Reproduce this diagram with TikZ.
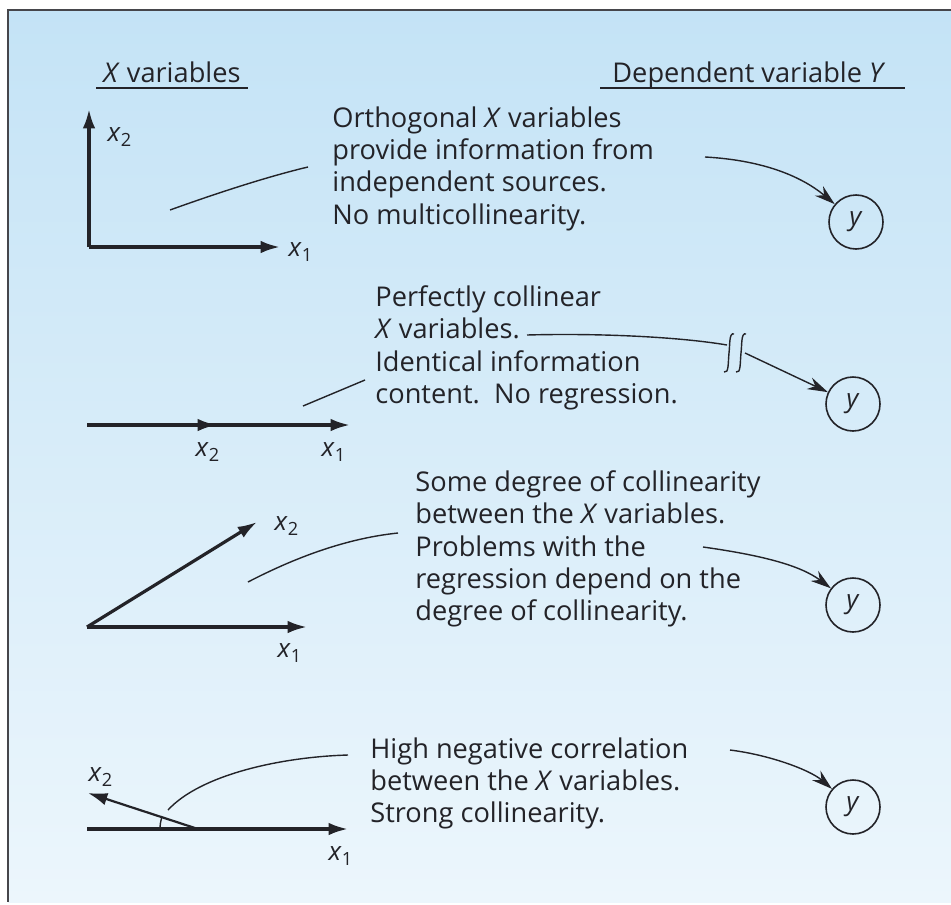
\documentclass[tikz,border=0pt]{standalone}
\usepackage{fontspec}
\setmainfont{Open Sans}
\usetikzlibrary{arrows.meta}
\usepackage{xcolor}
\definecolor{paneltop}{RGB}{196,227,246}
\definecolor{panelbot}{RGB}{236,246,252}
\definecolor{inkdark}{RGB}{35,35,40}
\definecolor{framegray}{RGB}{70,70,75}
\newcommand{\xsub}[1]{\textit{x}\textsubscript{#1}}

\begin{document}
\begin{tikzpicture}[x=0.5pt,y=-0.5pt,
  every node/.style={text=inkdark,font=\fontsize{13}{16}\selectfont},
  note/.style={anchor=north west,align=left,inner sep=0pt,font=\fontsize{13.6}{16.2}\selectfont},
  head/.style={anchor=base west,inner sep=0pt,font=\fontsize{13.6}{16.2}\selectfont},
  axis/.style={draw=inkdark,line width=1.6pt,-{Latex[length=3.4mm,width=2.2mm]}},
  leader/.style={draw=inkdark,line width=0.7pt},
  link/.style={draw=inkdark,line width=0.7pt,-{Stealth[length=3.6mm,width=2.2mm]}},
  ynode/.style={circle,draw=inkdark,line width=0.8pt,minimum size=27pt,inner sep=0pt}]
\useasboundingbox (0,0) rectangle (951,904);
\fill[white] (0,0) rectangle (951,904);
\shade[top color=paneltop,bottom color=panelbot] (8,10) rectangle (951,902);
\draw[framegray,line width=1.2pt] (951,10) -- (8,10) -- (8,902);

% headings
\node[head] (hx) at (103,83) {\textit{X} variables};
\draw[inkdark,line width=0.8pt] (96,88) -- (248,88);
\node[head] (hy) at (612,83) {Dependent variable \textit{Y}};
\draw[inkdark,line width=0.8pt] (600,88) -- (905,88);

% orthogonal
\coordinate (o1) at (89,247);
\coordinate (a1x) at (280,247);
\coordinate (a1y) at (89,109);
\draw[axis] (o1) -- (a1x);
\draw[axis] (o1) -- (a1y);
\node (x2a) at (120,137) {\xsub{2}};
\node (x1a) at (301,252) {\xsub{1}};
\node[note] (t1) at (332,106) {Orthogonal \textit{X} variables\\provide information from\\independent sources.\\No multicollinearity.};
\coordinate (l1a) at (170,210);
\coordinate (l1b) at (308,167);
\draw[leader] (l1a) .. controls (220,192) and (270,176) .. (l1b);
\coordinate (c1) at (705,157);
\node[ynode] (y1) at (856,222) {\textit{y}};
\draw[link] (c1) .. controls (760,160) and (800,175) .. (y1);

% perfectly collinear
\coordinate (o2) at (87,425);
\coordinate (m2) at (217,425);
\coordinate (e2) at (350,425);
\draw[axis] (o2) -- (e2);
\draw[axis] (o2) -- (m2);
\node (x2b) at (208,452) {\xsub{2}};
\node (x1b) at (334,452) {\xsub{1}};
\node[note] (t2) at (375,285) {Perfectly collinear\\\textit{X} variables.\\Identical information\\content.\ \ No regression.};
\coordinate (l2a) at (303,406);
\coordinate (l2b) at (365,380);
\draw[leader] (l2a) -- (l2b);
\coordinate (c2) at (527,335);
\coordinate (b2a) at (727,345);
\coordinate (b2b) at (745,353);
\node[ynode] (y2) at (853,404) {\textit{y}};
\draw[leader] (c2) .. controls (600,333) and (680,337) .. (b2a);
\draw[link] (b2b) -- (y2);
\foreach \bx in {729,741}
  \draw[leader] (\bx+5,334) .. controls (\bx,332) and (\bx+1,345) .. (\bx,353)
    .. controls (\bx-1,362) and (\bx,374) .. (\bx-5,372);

% some collinearity
\coordinate (o3) at (87,627);
\coordinate (a3x) at (307,627);
\coordinate (a3y) at (257,522);
\draw[axis] (o3) -- (a3x);
\draw[axis] (o3) -- (a3y);
\node (x2c) at (287,526) {\xsub{2}};
\node (x1c) at (290,653) {\xsub{1}};
\node[note] (t3) at (415,470) {Some degree of collinearity\\between the \textit{X} variables.\\Problems with the\\regression depend on the\\degree of collinearity.};
\coordinate (l3a) at (248,582);
\coordinate (l3b) at (398,533);
\draw[leader] (l3a) .. controls (300,555) and (350,538) .. (l3b);
\coordinate (c3) at (703,547);
\node[ynode] (y3) at (853,605) {\textit{y}};
\draw[link] (c3) .. controls (760,555) and (800,565) .. (y3);

% negative correlation
\coordinate (s4) at (87,829);
\coordinate (o4) at (198,829);
\coordinate (a4x) at (348,829);
\coordinate (a4y) at (88,793);
\draw[axis] (s4) -- (a4x);
\draw[axis,line width=1.1pt] (o4) -- (a4y);
\draw[leader] (160,829) arc[start angle=180,end angle=198,radius=38];
\node (x2d) at (101,777) {\xsub{2}};
\node (x1d) at (341,856) {\xsub{1}};
\node[note] (t4) at (370,737) {High negative correlation\\between the \textit{X} variables.\\Strong collinearity.};
\coordinate (l4a) at (168,810);
\coordinate (l4b) at (348,755);
\draw[leader] (l4a) .. controls (200,775) and (280,757) .. (l4b);
\coordinate (c4) at (730,750);
\node[ynode] (y4) at (853,807) {\textit{y}};
\draw[link] (c4) .. controls (770,755) and (810,770) .. (y4);
\end{tikzpicture}
\end{document}
